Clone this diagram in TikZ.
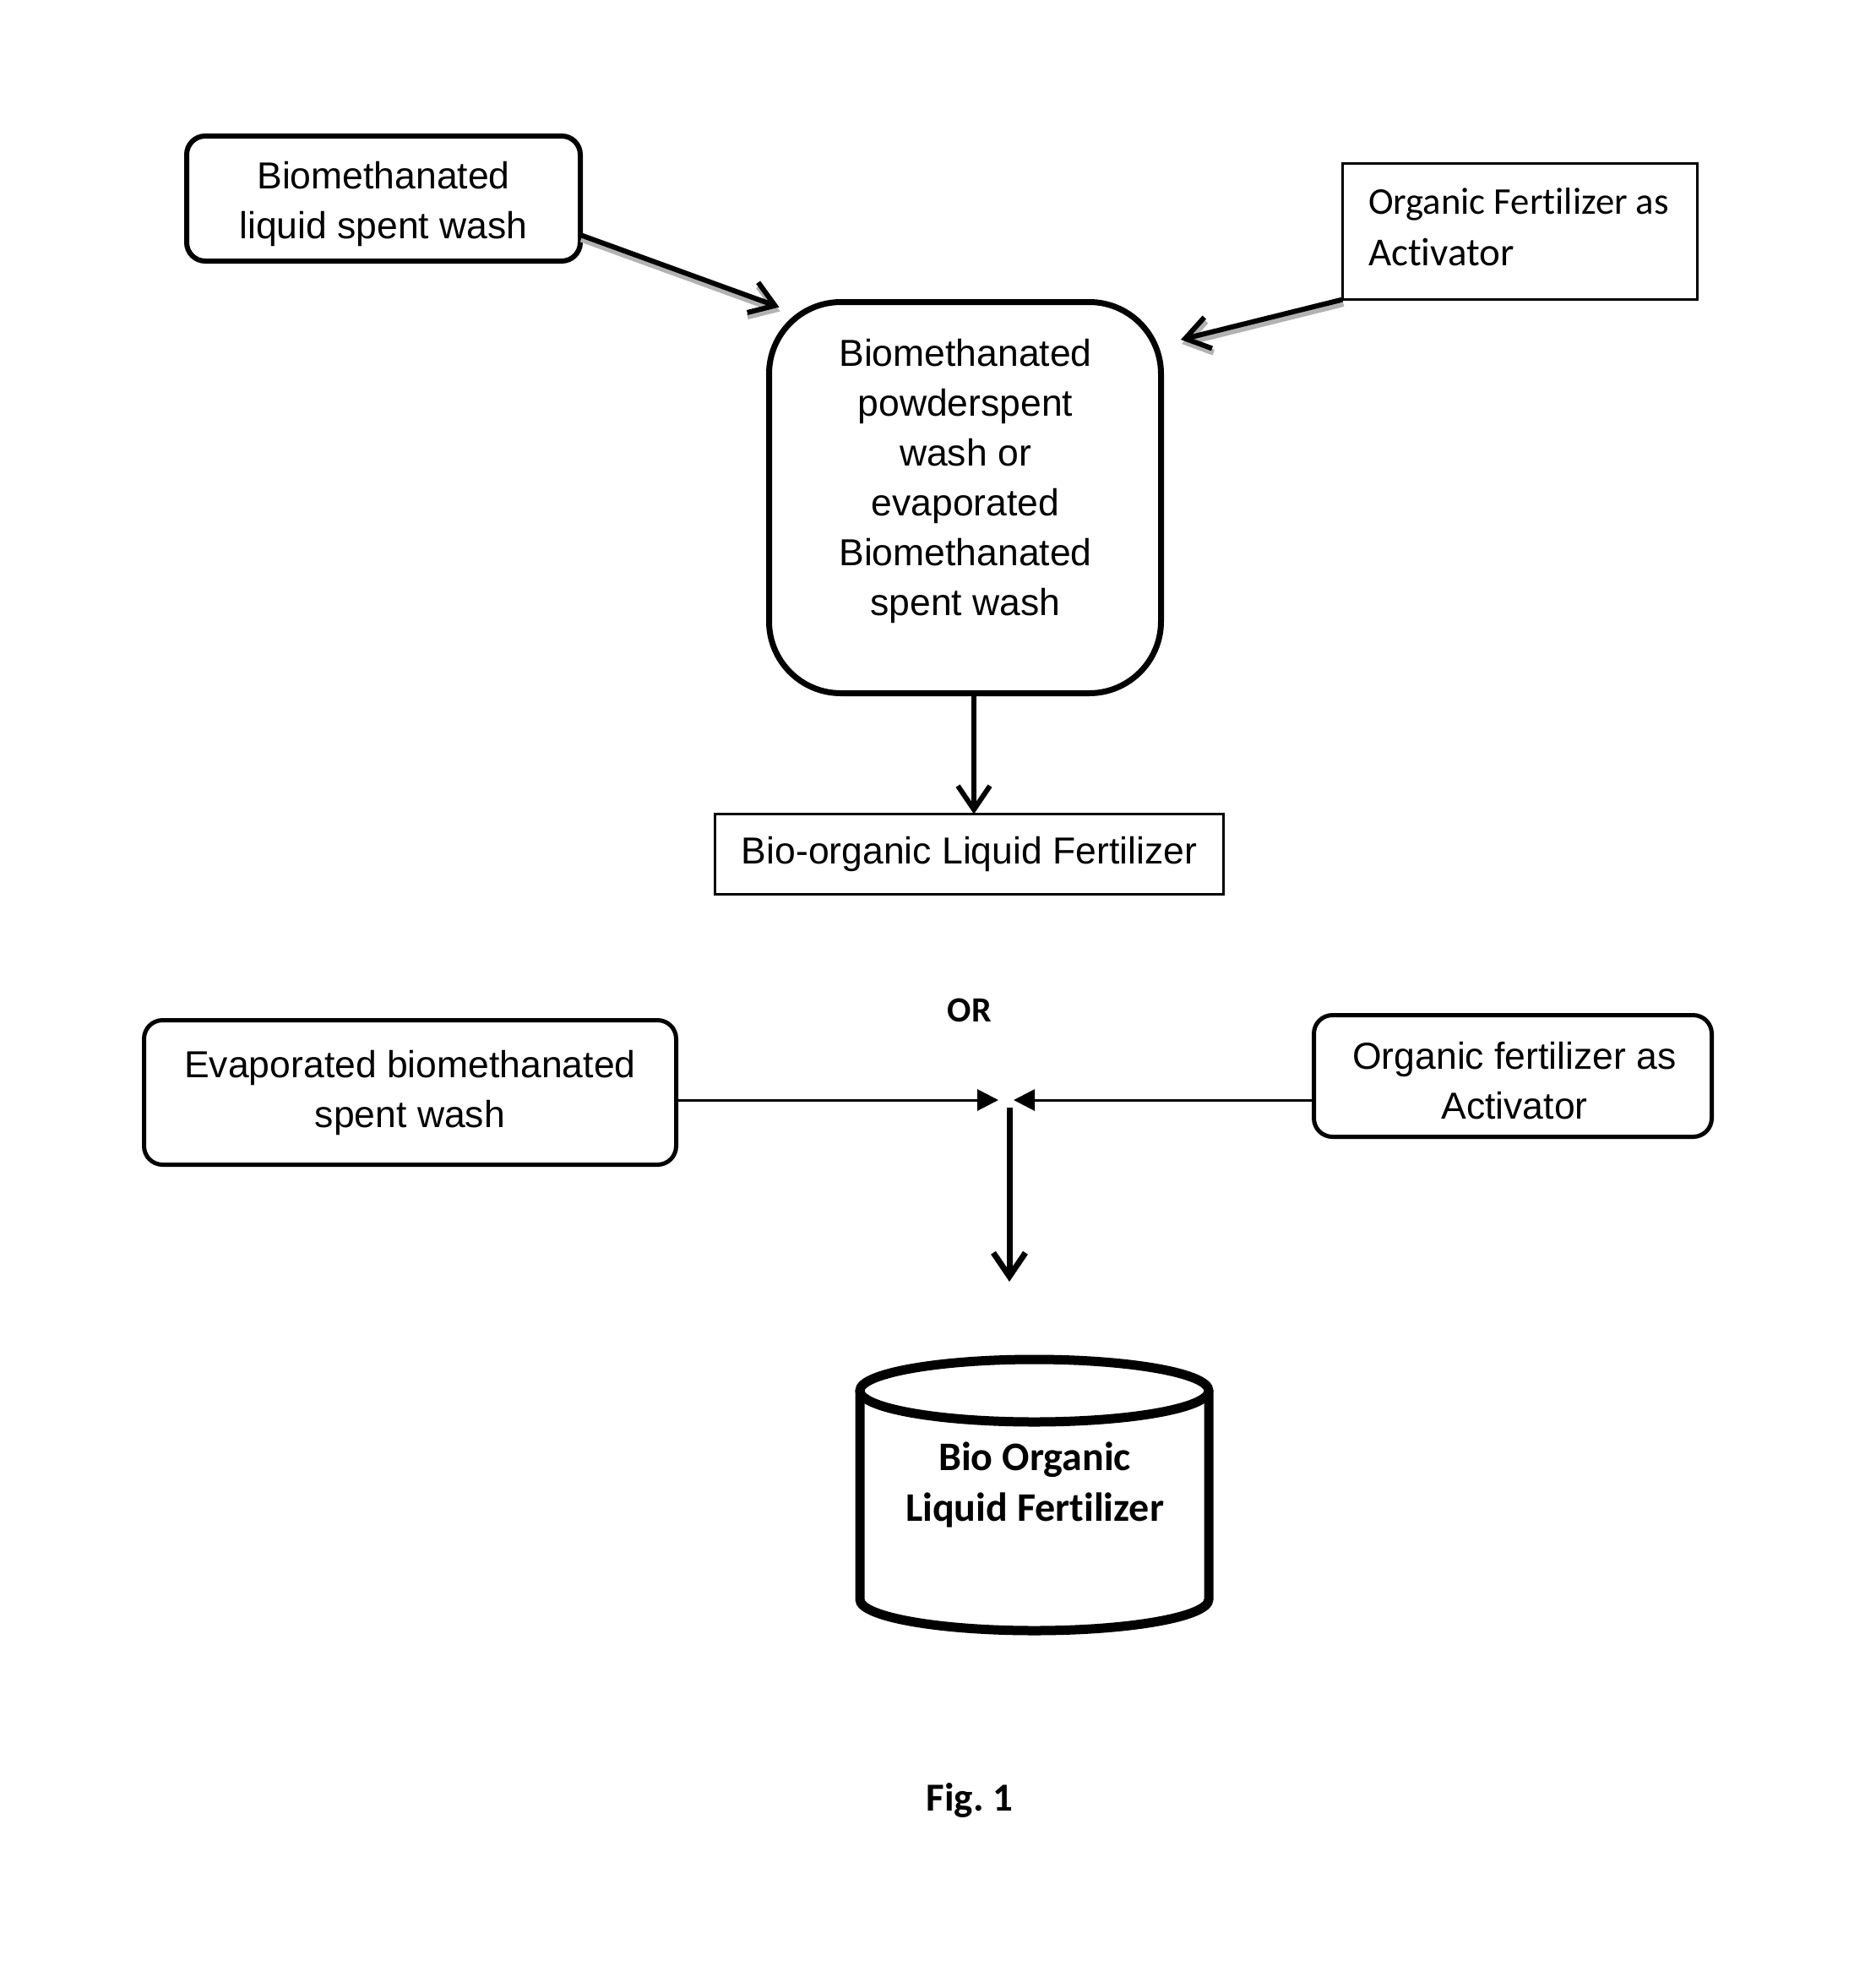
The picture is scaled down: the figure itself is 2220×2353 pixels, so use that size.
\documentclass[tikz,border=0pt]{standalone}
\usepackage{fontspec}
\setmainfont{Liberation Sans}
\newfontfamily\carlito{Carlito}[Ligatures=NoCommon]
\usetikzlibrary{arrows.meta}

\newcommand\bodytext{\fontsize{44.5}{59}\selectfont}

\begin{document}
\begin{tikzpicture}[x=1pt,y=-1pt,
  every node/.style={inner sep=0pt, outer sep=0pt},
  rbox/.style={draw, rounded corners=22pt, line width=5pt, align=center, font=\bodytext},
  sbox/.style={draw, line width=3pt, font=\bodytext},
  label text/.style={align=center, font=\bodytext},
  barb/.style={-{Straight Barb[length=28pt,width=38pt,line width=#1]}, line width=#1},
  barb/.default=6pt,
  feed/.style={barb=6pt},
  halo/.style={barb=7pt, draw=black!30, transform canvas={shift={(1,5)}}},
  mergearrow/.style={-{Triangle[length=25pt,width=25pt]}, line width=3pt},
]
\useasboundingbox (0,0) rectangle (2220,2353);

% upper flow
\node[rbox, line width=6pt, minimum width=466pt, minimum height=148pt] (liquid) at (454,235) {};
\node[label text] (liquidtext) at (454,241) {Biomethanated\\liquid spent wash};
\node[sbox, minimum width=420pt, minimum height=161pt] (orgact) at (1799.5,274) {};
\node[align=left, anchor=west, font=\carlito\fontsize{44.7}{61}\selectfont] (orgacttext) at (1620,268.5)
  {Organic Fertilizer as\\{\fontsize{47}{61}\selectfont Activator}};
\node[draw, rounded corners=85pt, line width=7pt, minimum width=464pt, minimum height=463pt] (mid) at (1142.5,589) {};
\node[label text] (midtext) at (1143,569)
  {Biomethanated\\powderspent\\wash or\\evaporated\\Biomethanated\\spent wash};
\node[sbox, minimum width=602pt, minimum height=95pt] (bio) at (1147.5,1011)
  {Bio-organic Liquid Fertilizer};

\draw[halo] ([yshift=-43pt]liquid.east) -- ([shift={(12,6)}]mid.north west);
\draw[feed] ([yshift=-43pt]liquid.east) -- ([shift={(12,6)}]mid.north west);
\draw[halo] (orgact.south west) -- ([shift={(23.5,44.5)}]mid.north east);
\draw[feed] (orgact.south west) -- ([shift={(23.5,44.5)}]mid.north east);

\coordinate (dx) at (1153,0);
\draw[barb=6pt] (mid.south -| dx) -- (bio.north -| dx);

% alternative route
\node[font=\carlito\bfseries\fontsize{42}{50}\selectfont] (or) at (1148,1196) {OR};
\node[rbox, minimum width=630pt, minimum height=171pt] (evap) at (485.5,1293)
  {Evaporated biomethanated\\spent wash};
\node[rbox, minimum width=471pt, minimum height=144pt] (act2) at (1791,1273.5) {};
\node[label text] (act2text) at (1793,1279.5) {Organic fertilizer as\\Activator};

\coordinate (j) at (1192,1302);
\coordinate (jend) at (1195,1517);
\draw[mergearrow] (evap.east |- j) -- ([xshift=-10pt]j);
\draw[mergearrow] (act2.west |- j) -- ([xshift=8pt]j);
\draw[barb=7pt] ([shift={(3,9)}]j) -- (jend);

% storage tank
\begin{scope}[line width=11pt]
  \draw[fill=white] (1018,1646) -- (1018,1893) arc[start angle=180, end angle=360, x radius=206.5, y radius=-37] -- (1431,1646);
  \draw (1224.5,1646) ellipse[x radius=206.5, y radius=37];
\end{scope}
\node[align=center, font=\carlito\bfseries\fontsize{48}{60}\selectfont] (tank) at (1225,1757)
  {Bio Organic\\Liquid Fertilizer};

\node[font=\carlito\bfseries\fontsize{47}{56}\selectfont] (fig) at (1148,2131) {Fig.~1};
\end{tikzpicture}
\end{document}
